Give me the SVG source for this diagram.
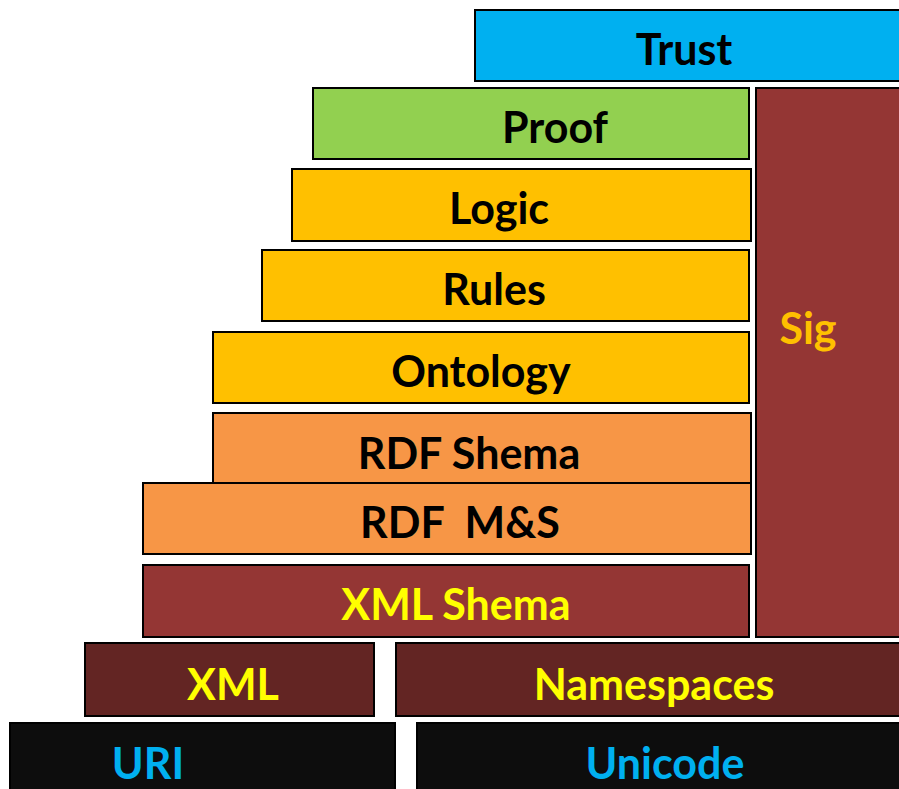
<svg xmlns="http://www.w3.org/2000/svg" width="899" height="789" viewBox="0 0 899 789">
  <style>
    .box { stroke: #000; stroke-width: 2; }
    .lbl { font-family: Lato, "Open Sans", "Liberation Sans", sans-serif; font-weight: bold; font-size: 43px; text-anchor: middle; white-space: pre; }
    .dark { fill: #000; }
    .yel { fill: #FFFF00; }
    .amber { fill: #FFC000; }
    .cyan { fill: #00B0F0; }
  </style>
  <rect width="899" height="789" fill="#fff"/>

  <g id="trust">
    <rect class="box" x="475" y="10" width="430" height="71" fill="#00B0F0"/>
    <text class="lbl dark" x="684" y="65">Trust</text>
  </g>
  <g id="proof">
    <rect class="box" x="313" y="88" width="436" height="71" fill="#92D050"/>
    <text class="lbl dark" x="555" y="143">Proof</text>
  </g>
  <g id="sig">
    <rect class="box" x="756" y="88" width="150" height="549" fill="#943634"/>
    <text class="lbl amber" x="808" y="344">Sig</text>
  </g>
  <g id="logic">
    <rect class="box" x="292" y="169" width="459" height="72" fill="#FFC000"/>
    <text class="lbl dark" x="499" y="224">Logic</text>
  </g>
  <g id="rules">
    <rect class="box" x="262" y="250" width="487" height="71" fill="#FFC000"/>
    <text class="lbl dark" x="494" y="305">Rules</text>
  </g>
  <g id="ontology">
    <rect class="box" x="213" y="332" width="536" height="71" fill="#FFC000"/>
    <text class="lbl dark" x="481" y="387">Ontology</text>
  </g>
  <g id="rdf-schema">
    <rect class="box" x="213" y="413" width="538" height="70" fill="#F79646"/>
    <text class="lbl dark" x="469" y="469">RDF Shema</text>
  </g>
  <g id="rdf-ms">
    <rect class="box" x="143" y="483" width="608" height="71" fill="#F79646"/>
    <text class="lbl dark" x="460" y="538">RDF  M&amp;S</text>
  </g>
  <g id="xml-schema">
    <rect class="box" x="143" y="565" width="606" height="72" fill="#943634"/>
    <text class="lbl yel" x="456" y="620">XML Shema</text>
  </g>
  <g id="xml">
    <rect class="box" x="85" y="643" width="289" height="73" fill="#632523"/>
    <text class="lbl yel" x="233" y="700">XML</text>
  </g>
  <g id="namespaces">
    <rect class="box" x="396" y="643" width="510" height="73" fill="#632523"/>
    <text class="lbl yel" x="654" y="700">Namespaces</text>
  </g>
  <g id="uri">
    <rect class="box" x="10" y="723" width="385" height="75" fill="#0D0D0D"/>
    <text class="lbl cyan" x="148" y="779">URI</text>
  </g>
  <g id="unicode">
    <rect class="box" x="417" y="723" width="490" height="75" fill="#0D0D0D"/>
    <text class="lbl cyan" x="665" y="779">Unicode</text>
  </g>

  <g id="connectors"/>
</svg>
